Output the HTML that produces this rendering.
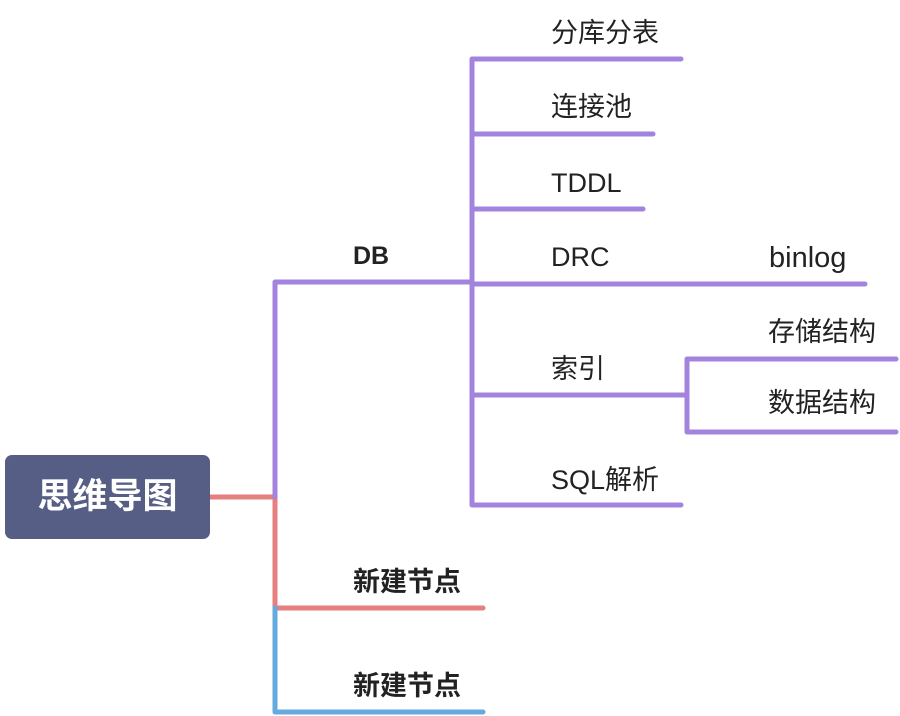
<!DOCTYPE html>
<html><head><meta charset="utf-8"><style>
body{margin:0;background:#fff;width:900px;height:716px;overflow:hidden;position:relative;font-family:"Liberation Sans","Noto Sans CJK SC",sans-serif}
.t{position:absolute;font-size:27px;color:#222;line-height:32px;white-space:nowrap}
.b{font-weight:bold;font-size:27px;color:#222}
</style></head><body>
<svg width="900" height="716" style="position:absolute;left:0;top:0" fill="none" stroke-width="5" stroke-linecap="round" stroke-linejoin="round">
<g stroke="#E57F80"><path d="M210 497H275V608H483"/></g>
<g stroke="#A283DE"><path d="M275 497V282H471"/>
<path d="M472 505V59H681M472 134H653M472 209H643M472 284H865M472 395H686M472 505H681M896 359H687V432H896M686 395H687"/></g>
<g stroke="#64AADF"><path d="M275 608V712H483"/></g>
</svg>
<div style="position:absolute;left:5px;top:455px;width:205px;height:84px;background:#565E85;border-radius:7px;color:#fff;font-weight:bold;font-size:35px;line-height:84px;text-align:center">思维导图</div>
<div class="t b" style="left:353px;top:240px;font-size:25px">DB</div>
<div class="t b" style="left:353px;top:566px">新建节点</div>
<div class="t b" style="left:353px;top:670px">新建节点</div>
<div class="t" style="left:551px;top:17px">分库分表</div>
<div class="t" style="left:551px;top:91px">连接池</div>
<div class="t" style="left:551px;top:167px">TDDL</div>
<div class="t" style="left:551px;top:241px">DRC</div>
<div class="t" style="left:551px;top:353px">索引</div>
<div class="t" style="left:551px;top:464px">SQL解析</div>
<div class="t" style="left:769px;top:242px;font-size:29px">binlog</div>
<div class="t" style="left:768px;top:316px">存储结构</div>
<div class="t" style="left:768px;top:387px">数据结构</div>
</body></html>
